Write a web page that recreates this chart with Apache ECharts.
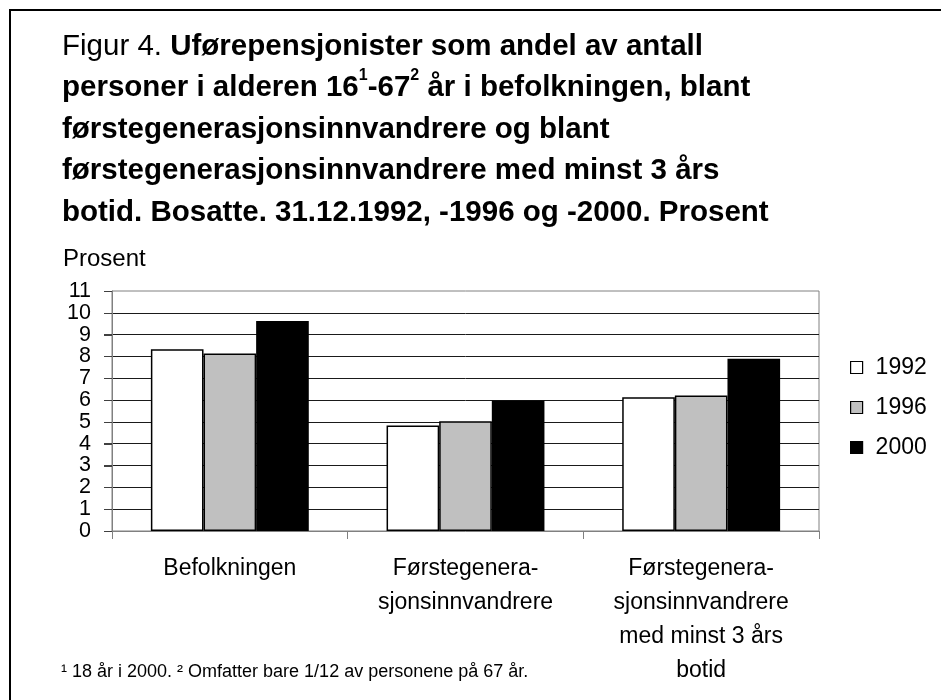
<!DOCTYPE html>
<html>
<head>
<meta charset="utf-8">
<script src="https://cdn.jsdelivr.net/npm/echarts@6/dist/echarts.min.js"></script>
<style>
html,body{margin:0;padding:0;background:#fff;}
#chart{width:941px;height:700px;}
</style>
</head>
<body>
<div id="chart"></div>
<script>
const categories = ['Befolkningen', 'Førstegenera-\nsjonsinnvandrere', 'Førstegenera-\nsjonsinnvandrere\nmed minst 3 års\nbotid'];
const years = ['1992', '1996', '2000'];
const values1992 = [8.33, 4.84, 6.13];
const values1996 = [8.13, 5.03, 6.21];
const values2000 = [9.62, 5.98, 7.90];
const yTicks = [0, 11, 1]; // min, max, interval
const yAxisName = 'Prosent';
const footnote = '¹ 18 år i 2000. ² Omfatter bare 1/12 av personene på 67 år.';

const FONT = "'Liberation Sans', Arial, sans-serif";
const chart = echarts.init(document.getElementById('chart'), null, {renderer: 'canvas'});

const titleText =
  '{r|Figur 4. }{b|Uførepensjonister som andel av antall}\n' +
  '{b|personer i alderen 16}{s|1}{b|-67}{s|2}{b| år i befolkningen, blant}\n' +
  '{b|førstegenerasjonsinnvandrere og blant}\n' +
  '{b|førstegenerasjonsinnvandrere med minst 3 års}\n' +
  '{b|botid. Bosatte. 31.12.1992, -1996 og -2000. Prosent}';

const fills = ['#ffffff', '#c0c0c0', '#000000'];
const seriesData = [values1992, values1996, values2000];

const baseGraphic = [
  {id: 'border', type: 'rect', shape: {x: 10, y: 10, width: 1000, height: 800},
   style: {fill: 'none', stroke: '#000', lineWidth: 2}, silent: true, z: 100},
  {id: 'yname', type: 'text', left: 63, top: 247,
   style: {text: yAxisName, font: '24px ' + FONT, fill: '#000'}},
  {id: 'foot', type: 'text', left: 61, top: 663,
   style: {text: footnote, font: '18px ' + FONT, fill: '#000'}}
];

const option = {
  backgroundColor: '#fff',
  animation: false,
  textStyle: {fontFamily: FONT},
  title: {
    left: 62, top: 26, padding: 0,
    text: titleText,
    textStyle: {
      fontFamily: FONT, fontSize: 29.5, lineHeight: 41.5, color: '#000',
      rich: {
        r: {fontFamily: FONT, fontSize: 29.5, lineHeight: 41.5, fontWeight: 'normal', color: '#000'},
        b: {fontFamily: FONT, fontSize: 29.5, lineHeight: 41.5, fontWeight: 'bold', color: '#000'},
        s: {fontFamily: FONT, fontSize: 16, lineHeight: 41.5, fontWeight: 'bold', color: '#000', verticalAlign: 'top', padding: [0, 0, 14, 0]}
      }
    }
  },
  legend: {
    orient: 'vertical', left: 850, top: 356, padding: 0,
    itemWidth: 12, itemHeight: 12, itemGap: 17,
    icon: 'rect',
    data: years,
    itemStyle: {borderColor: '#000', borderWidth: 1.2},
    textStyle: {fontFamily: FONT, fontSize: 23, lineHeight: 23, color: '#000', padding: [0, 0, 0, 8]}
  },
  grid: {
    left: 112, right: 122, top: 291, bottom: 169,
    show: true, borderColor: '#808080', borderWidth: 1, backgroundColor: 'transparent'
  },
  xAxis: {
    type: 'category', data: categories,
    axisLine: {show: true, lineStyle: {color: '#808080', width: 1}},
    axisTick: {show: true, inside: false, length: 8, lineStyle: {color: '#808080'}},
    axisLabel: {fontFamily: FONT, fontSize: 23, lineHeight: 34, color: '#000', margin: 21, interval: 0, align: 'center'}
  },
  yAxis: {
    type: 'value', min: yTicks[0], max: yTicks[1], interval: yTicks[2],
    axisLine: {show: true, lineStyle: {color: '#808080', width: 1}},
    axisTick: {show: true, inside: false, length: 8, lineStyle: {color: '#404040', width: 1}},
    axisLabel: {fontFamily: FONT, fontSize: 21.5, lineHeight: 18, color: '#000', margin: 21, hideOverlap: false},
    splitLine: {show: true, showMinLine: false, showMaxLine: false, lineStyle: {color: '#1a1a1a', width: 1}}
  },
  series: years.map((y, i) => ({
    name: y, type: 'bar', data: seriesData[i],
    barGap: '0%', barCategoryGap: '33%',
    itemStyle: {color: fills[i], borderColor: '#000', borderWidth: 1.5}
  })),
  graphic: baseGraphic
};
chart.setOption(option);

// Outward y-axis ticks, positioned through the axis's own scale.
const rect = chart.getModel().getComponent('grid', 0).coordinateSystem.getRect();
const tickEls = [];
for (let v = yTicks[0]; v <= yTicks[1]; v += yTicks[2]) {
  const py = Math.round(chart.convertToPixel({yAxisIndex: 0}, v)) + 0.5;
  tickEls.push({id: 'ytick' + v, type: 'line',
    shape: {x1: rect.x - 8, y1: py, x2: rect.x, y2: py},
    style: {stroke: '#404040', lineWidth: 1}, silent: true});
}
chart.setOption({graphic: baseGraphic.concat(tickEls)});
</script>
</body>
</html>
